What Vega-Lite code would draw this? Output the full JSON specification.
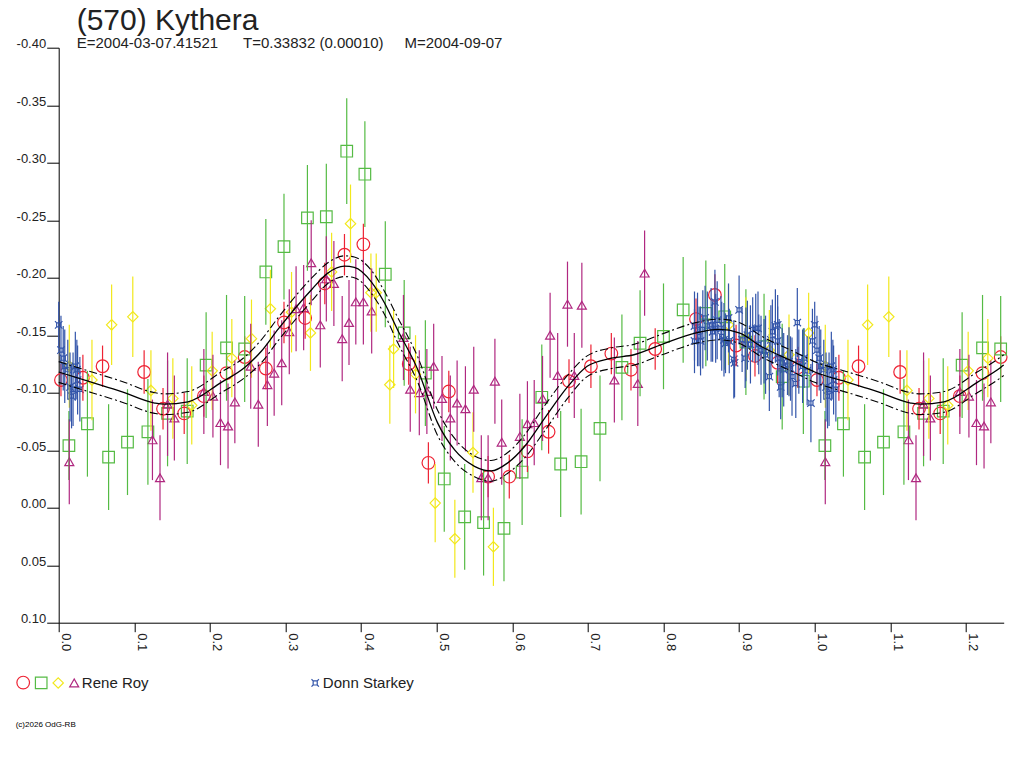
{
  "$schema": "https://vega.github.io/schema/vega-lite/v6.json",
  "autosize": "none",
  "width": 945,
  "height": 575,
  "padding": {"left": 58.7, "top": 47.7, "right": 20.3, "bottom": 145.3},
  "background": "white",
  "title": {
    "text": "(570) Kythera",
    "subtitle": "E=2004-03-07.41521\u00a0\u00a0\u00a0\u00a0\u00a0\u00a0T=0.33832 (0.00010)\u00a0\u00a0\u00a0\u00a0\u00a0M=2004-09-07",
    "anchor": "start",
    "frame": "group",
    "dx": 18,
    "offset": -13,
    "fontSize": 30,
    "fontWeight": "normal",
    "color": "#222222",
    "subtitleFontSize": 15,
    "subtitleColor": "#222222",
    "subtitlePadding": 0
  },
  "datasets": {
    "pts": [
      {"p": 0.003, "m": -0.111, "e": 0.014, "s": "Roy1"},
      {"p": 0.032, "m": -0.113, "e": 0.020, "s": "Roy1"},
      {"p": 0.058, "m": -0.123, "e": 0.018, "s": "Roy1"},
      {"p": 0.113, "m": -0.118, "e": 0.019, "s": "Roy1"},
      {"p": 0.138, "m": -0.086, "e": 0.018, "s": "Roy1"},
      {"p": 0.166, "m": -0.082, "e": 0.018, "s": "Roy1"},
      {"p": 0.192, "m": -0.097, "e": 0.018, "s": "Roy1"},
      {"p": 0.222, "m": -0.117, "e": 0.018, "s": "Roy1"},
      {"p": 0.246, "m": -0.131, "e": 0.018, "s": "Roy1"},
      {"p": 0.274, "m": -0.121, "e": 0.018, "s": "Roy1"},
      {"p": 0.298, "m": -0.161, "e": 0.018, "s": "Roy1"},
      {"p": 0.326, "m": -0.165, "e": 0.018, "s": "Roy1"},
      {"p": 0.352, "m": -0.195, "e": 0.018, "s": "Roy1"},
      {"p": 0.378, "m": -0.220, "e": 0.018, "s": "Roy1"},
      {"p": 0.403, "m": -0.229, "e": 0.018, "s": "Roy1"},
      {"p": 0.463, "m": -0.125, "e": 0.018, "s": "Roy1"},
      {"p": 0.489, "m": -0.039, "e": 0.018, "s": "Roy1"},
      {"p": 0.516, "m": -0.101, "e": 0.018, "s": "Roy1"},
      {"p": 0.568, "m": -0.027, "e": 0.018, "s": "Roy1"},
      {"p": 0.596, "m": -0.027, "e": 0.019, "s": "Roy1"},
      {"p": 0.620, "m": -0.049, "e": 0.018, "s": "Roy1"},
      {"p": 0.648, "m": -0.066, "e": 0.019, "s": "Roy1"},
      {"p": 0.675, "m": -0.110, "e": 0.019, "s": "Roy1"},
      {"p": 0.704, "m": -0.123, "e": 0.019, "s": "Roy1"},
      {"p": 0.731, "m": -0.134, "e": 0.018, "s": "Roy1"},
      {"p": 0.757, "m": -0.120, "e": 0.018, "s": "Roy1"},
      {"p": 0.789, "m": -0.138, "e": 0.018, "s": "Roy1"},
      {"p": 0.843, "m": -0.164, "e": 0.018, "s": "Roy1"},
      {"p": 0.868, "m": -0.185, "e": 0.018, "s": "Roy1"},
      {"p": 0.896, "m": -0.141, "e": 0.018, "s": "Roy1"},
      {"p": 0.921, "m": -0.132, "e": 0.018, "s": "Roy1"},
      {"p": 0.951, "m": -0.126, "e": 0.018, "s": "Roy1"},
      {"p": 0.978, "m": -0.122, "e": 0.018, "s": "Roy1"},
      {"p": 1.003, "m": -0.111, "e": 0.014, "s": "Roy1"},
      {"p": 1.032, "m": -0.113, "e": 0.020, "s": "Roy1"},
      {"p": 1.058, "m": -0.123, "e": 0.018, "s": "Roy1"},
      {"p": 1.113, "m": -0.118, "e": 0.019, "s": "Roy1"},
      {"p": 1.138, "m": -0.086, "e": 0.018, "s": "Roy1"},
      {"p": 1.166, "m": -0.082, "e": 0.018, "s": "Roy1"},
      {"p": 1.192, "m": -0.097, "e": 0.018, "s": "Roy1"},
      {"p": 1.222, "m": -0.117, "e": 0.018, "s": "Roy1"},
      {"p": 1.246, "m": -0.131, "e": 0.018, "s": "Roy1"},

      {"p": 0.0135, "m": -0.054, "e": 0.030, "s": "Roy2"},
      {"p": 0.038, "m": -0.073, "e": 0.046, "s": "Roy2"},
      {"p": 0.066, "m": -0.044, "e": 0.046, "s": "Roy2"},
      {"p": 0.091, "m": -0.057, "e": 0.046, "s": "Roy2"},
      {"p": 0.118, "m": -0.066, "e": 0.046, "s": "Roy2"},
      {"p": 0.144, "m": -0.082, "e": 0.046, "s": "Roy2"},
      {"p": 0.170, "m": -0.084, "e": 0.046, "s": "Roy2"},
      {"p": 0.195, "m": -0.124, "e": 0.046, "s": "Roy2"},
      {"p": 0.222, "m": -0.139, "e": 0.046, "s": "Roy2"},
      {"p": 0.246, "m": -0.138, "e": 0.046, "s": "Roy2"},
      {"p": 0.274, "m": -0.205, "e": 0.046, "s": "Roy2"},
      {"p": 0.298, "m": -0.227, "e": 0.046, "s": "Roy2"},
      {"p": 0.329, "m": -0.252, "e": 0.046, "s": "Roy2"},
      {"p": 0.354, "m": -0.253, "e": 0.046, "s": "Roy2"},
      {"p": 0.381, "m": -0.310, "e": 0.046, "s": "Roy2"},
      {"p": 0.405, "m": -0.290, "e": 0.046, "s": "Roy2"},
      {"p": 0.432, "m": -0.203, "e": 0.046, "s": "Roy2"},
      {"p": 0.457, "m": -0.152, "e": 0.046, "s": "Roy2"},
      {"p": 0.485, "m": -0.117, "e": 0.046, "s": "Roy2"},
      {"p": 0.510, "m": -0.025, "e": 0.046, "s": "Roy2"},
      {"p": 0.537, "m": 0.008, "e": 0.046, "s": "Roy2"},
      {"p": 0.562, "m": 0.013, "e": 0.046, "s": "Roy2"},
      {"p": 0.589, "m": 0.018, "e": 0.046, "s": "Roy2"},
      {"p": 0.613, "m": -0.031, "e": 0.046, "s": "Roy2"},
      {"p": 0.639, "m": -0.096, "e": 0.046, "s": "Roy2"},
      {"p": 0.664, "m": -0.038, "e": 0.046, "s": "Roy2"},
      {"p": 0.691, "m": -0.040, "e": 0.046, "s": "Roy2"},
      {"p": 0.716, "m": -0.069, "e": 0.046, "s": "Roy2"},
      {"p": 0.745, "m": -0.122, "e": 0.046, "s": "Roy2"},
      {"p": 0.769, "m": -0.143, "e": 0.046, "s": "Roy2"},
      {"p": 0.800, "m": -0.149, "e": 0.046, "s": "Roy2"},
      {"p": 0.826, "m": -0.172, "e": 0.046, "s": "Roy2"},
      {"p": 0.856, "m": -0.169, "e": 0.046, "s": "Roy2"},
      {"p": 0.881, "m": -0.166, "e": 0.046, "s": "Roy2"},
      {"p": 0.909, "m": -0.144, "e": 0.046, "s": "Roy2"},
      {"p": 0.933, "m": -0.140, "e": 0.046, "s": "Roy2"},
      {"p": 0.957, "m": -0.114, "e": 0.046, "s": "Roy2"},
      {"p": 0.985, "m": -0.110, "e": 0.046, "s": "Roy2"},
      {"p": 1.0135, "m": -0.054, "e": 0.030, "s": "Roy2"},
      {"p": 1.038, "m": -0.073, "e": 0.046, "s": "Roy2"},
      {"p": 1.066, "m": -0.044, "e": 0.046, "s": "Roy2"},
      {"p": 1.091, "m": -0.057, "e": 0.046, "s": "Roy2"},
      {"p": 1.118, "m": -0.066, "e": 0.046, "s": "Roy2"},
      {"p": 1.144, "m": -0.082, "e": 0.046, "s": "Roy2"},
      {"p": 1.170, "m": -0.084, "e": 0.046, "s": "Roy2"},
      {"p": 1.195, "m": -0.124, "e": 0.046, "s": "Roy2"},
      {"p": 1.222, "m": -0.139, "e": 0.046, "s": "Roy2"},
      {"p": 1.246, "m": -0.138, "e": 0.046, "s": "Roy2"},

      {"p": 0.014, "m": -0.123, "e": 0.036, "s": "Roy3"},
      {"p": 0.044, "m": -0.111, "e": 0.035, "s": "Roy3"},
      {"p": 0.070, "m": -0.159, "e": 0.035, "s": "Roy3"},
      {"p": 0.098, "m": -0.166, "e": 0.035, "s": "Roy3"},
      {"p": 0.122, "m": -0.102, "e": 0.035, "s": "Roy3"},
      {"p": 0.151, "m": -0.095, "e": 0.035, "s": "Roy3"},
      {"p": 0.176, "m": -0.089, "e": 0.034, "s": "Roy3"},
      {"p": 0.203, "m": -0.119, "e": 0.034, "s": "Roy3"},
      {"p": 0.229, "m": -0.130, "e": 0.034, "s": "Roy3"},
      {"p": 0.255, "m": -0.147, "e": 0.034, "s": "Roy3"},
      {"p": 0.280, "m": -0.173, "e": 0.034, "s": "Roy3"},
      {"p": 0.308, "m": -0.170, "e": 0.035, "s": "Roy3"},
      {"p": 0.333, "m": -0.152, "e": 0.033, "s": "Roy3"},
      {"p": 0.361, "m": -0.205, "e": 0.034, "s": "Roy3"},
      {"p": 0.386, "m": -0.247, "e": 0.034, "s": "Roy3"},
      {"p": 0.413, "m": -0.187, "e": 0.034, "s": "Roy3"},
      {"p": 0.420, "m": -0.187, "e": 0.034, "s": "Roy3"},
      {"p": 0.438, "m": -0.107, "e": 0.034, "s": "Roy3"},
      {"p": 0.443, "m": -0.138, "e": 0.034, "s": "Roy3"},
      {"p": 0.472, "m": -0.116, "e": 0.034, "s": "Roy3"},
      {"p": 0.498, "m": -0.004, "e": 0.034, "s": "Roy3"},
      {"p": 0.524, "m": 0.027, "e": 0.034, "s": "Roy3"},
      {"p": 0.548, "m": -0.048, "e": 0.035, "s": "Roy3"},
      {"p": 0.575, "m": 0.034, "e": 0.034, "s": "Roy3"},
      {"p": 0.886, "m": -0.159, "e": 0.035, "s": "Roy3"},
      {"p": 0.909, "m": -0.148, "e": 0.035, "s": "Roy3"},
      {"p": 0.940, "m": -0.137, "e": 0.035, "s": "Roy3"},
      {"p": 0.966, "m": -0.133, "e": 0.035, "s": "Roy3"},
      {"p": 0.992, "m": -0.152, "e": 0.035, "s": "Roy3"},
      {"p": 1.014, "m": -0.123, "e": 0.036, "s": "Roy3"},
      {"p": 1.044, "m": -0.111, "e": 0.035, "s": "Roy3"},
      {"p": 1.070, "m": -0.159, "e": 0.035, "s": "Roy3"},
      {"p": 1.098, "m": -0.166, "e": 0.035, "s": "Roy3"},
      {"p": 1.122, "m": -0.102, "e": 0.035, "s": "Roy3"},
      {"p": 1.151, "m": -0.095, "e": 0.035, "s": "Roy3"},
      {"p": 1.176, "m": -0.089, "e": 0.034, "s": "Roy3"},
      {"p": 1.203, "m": -0.119, "e": 0.034, "s": "Roy3"},
      {"p": 1.229, "m": -0.130, "e": 0.034, "s": "Roy3"},

      {"p": 0.014, "m": -0.040, "e": 0.037, "s": "Roy4"},
      {"p": 0.124, "m": -0.059, "e": 0.035, "s": "Roy4"},
      {"p": 0.134, "m": -0.026, "e": 0.037, "s": "Roy4"},
      {"p": 0.144, "m": -0.090, "e": 0.045, "s": "Roy4"},
      {"p": 0.153, "m": -0.078, "e": 0.037, "s": "Roy4"},
      {"p": 0.192, "m": -0.101, "e": 0.037, "s": "Roy4"},
      {"p": 0.204, "m": -0.097, "e": 0.036, "s": "Roy4"},
      {"p": 0.214, "m": -0.074, "e": 0.037, "s": "Roy4"},
      {"p": 0.224, "m": -0.071, "e": 0.037, "s": "Roy4"},
      {"p": 0.233, "m": -0.092, "e": 0.036, "s": "Roy4"},
      {"p": 0.254, "m": -0.123, "e": 0.037, "s": "Roy4"},
      {"p": 0.264, "m": -0.090, "e": 0.037, "s": "Roy4"},
      {"p": 0.276, "m": -0.107, "e": 0.036, "s": "Roy4"},
      {"p": 0.285, "m": -0.117, "e": 0.037, "s": "Roy4"},
      {"p": 0.295, "m": -0.126, "e": 0.037, "s": "Roy4"},
      {"p": 0.305, "m": -0.153, "e": 0.037, "s": "Roy4"},
      {"p": 0.314, "m": -0.173, "e": 0.037, "s": "Roy4"},
      {"p": 0.324, "m": -0.174, "e": 0.037, "s": "Roy4"},
      {"p": 0.334, "m": -0.213, "e": 0.037, "s": "Roy4"},
      {"p": 0.346, "m": -0.159, "e": 0.037, "s": "Roy4"},
      {"p": 0.354, "m": -0.199, "e": 0.037, "s": "Roy4"},
      {"p": 0.364, "m": -0.195, "e": 0.037, "s": "Roy4"},
      {"p": 0.375, "m": -0.147, "e": 0.037, "s": "Roy4"},
      {"p": 0.384, "m": -0.161, "e": 0.037, "s": "Roy4"},
      {"p": 0.393, "m": -0.179, "e": 0.037, "s": "Roy4"},
      {"p": 0.403, "m": -0.179, "e": 0.037, "s": "Roy4"},
      {"p": 0.414, "m": -0.171, "e": 0.037, "s": "Roy4"},
      {"p": 0.456, "m": -0.148, "e": 0.037, "s": "Roy4"},
      {"p": 0.465, "m": -0.103, "e": 0.037, "s": "Roy4"},
      {"p": 0.477, "m": -0.100, "e": 0.037, "s": "Roy4"},
      {"p": 0.487, "m": -0.101, "e": 0.037, "s": "Roy4"},
      {"p": 0.496, "m": -0.123, "e": 0.037, "s": "Roy4"},
      {"p": 0.507, "m": -0.095, "e": 0.037, "s": "Roy4"},
      {"p": 0.518, "m": -0.078, "e": 0.037, "s": "Roy4"},
      {"p": 0.527, "m": -0.091, "e": 0.037, "s": "Roy4"},
      {"p": 0.538, "m": -0.086, "e": 0.037, "s": "Roy4"},
      {"p": 0.549, "m": -0.103, "e": 0.037, "s": "Roy4"},
      {"p": 0.559, "m": -0.026, "e": 0.037, "s": "Roy4"},
      {"p": 0.568, "m": -0.026, "e": 0.037, "s": "Roy4"},
      {"p": 0.577, "m": -0.110, "e": 0.037, "s": "Roy4"},
      {"p": 0.586, "m": -0.057, "e": 0.037, "s": "Roy4"},
      {"p": 0.610, "m": -0.062, "e": 0.037, "s": "Roy4"},
      {"p": 0.620, "m": -0.073, "e": 0.037, "s": "Roy4"},
      {"p": 0.629, "m": -0.074, "e": 0.037, "s": "Roy4"},
      {"p": 0.640, "m": -0.095, "e": 0.037, "s": "Roy4"},
      {"p": 0.650, "m": -0.150, "e": 0.037, "s": "Roy4"},
      {"p": 0.660, "m": -0.115, "e": 0.037, "s": "Roy4"},
      {"p": 0.673, "m": -0.177, "e": 0.037, "s": "Roy4"},
      {"p": 0.682, "m": -0.115, "e": 0.037, "s": "Roy4"},
      {"p": 0.692, "m": -0.176, "e": 0.037, "s": "Roy4"},
      {"p": 0.735, "m": -0.111, "e": 0.037, "s": "Roy4"},
      {"p": 0.766, "m": -0.108, "e": 0.037, "s": "Roy4"},
      {"p": 0.775, "m": -0.204, "e": 0.037, "s": "Roy4"},
      {"p": 1.014, "m": -0.040, "e": 0.037, "s": "Roy4"},
      {"p": 1.124, "m": -0.059, "e": 0.035, "s": "Roy4"},
      {"p": 1.134, "m": -0.026, "e": 0.037, "s": "Roy4"},
      {"p": 1.144, "m": -0.090, "e": 0.045, "s": "Roy4"},
      {"p": 1.153, "m": -0.078, "e": 0.037, "s": "Roy4"},
      {"p": 1.192, "m": -0.101, "e": 0.037, "s": "Roy4"},
      {"p": 1.204, "m": -0.097, "e": 0.036, "s": "Roy4"},
      {"p": 1.214, "m": -0.074, "e": 0.037, "s": "Roy4"},
      {"p": 1.224, "m": -0.071, "e": 0.037, "s": "Roy4"},
      {"p": 1.233, "m": -0.092, "e": 0.036, "s": "Roy4"},

      {"p": 0.000, "m": -0.159, "e": 0.020, "s": "Starkey"},
      {"p": 0.003, "m": -0.137, "e": 0.030, "s": "Starkey"},
      {"p": 0.006, "m": -0.130, "e": 0.028, "s": "Starkey"},
      {"p": 0.008, "m": -0.123, "e": 0.032, "s": "Starkey"},
      {"p": 0.012, "m": -0.120, "e": 0.026, "s": "Starkey"},
      {"p": 0.015, "m": -0.105, "e": 0.030, "s": "Starkey"},
      {"p": 0.017, "m": -0.097, "e": 0.028, "s": "Starkey"},
      {"p": 0.019, "m": -0.103, "e": 0.032, "s": "Starkey"},
      {"p": 0.022, "m": -0.123, "e": 0.030, "s": "Starkey"},
      {"p": 0.024, "m": -0.120, "e": 0.026, "s": "Starkey"},
      {"p": 0.025, "m": -0.111, "e": 0.030, "s": "Starkey"},
      {"p": 0.028, "m": -0.103, "e": 0.028, "s": "Starkey"},
      {"p": 0.841, "m": -0.158, "e": 0.030, "s": "Starkey"},
      {"p": 0.841, "m": -0.145, "e": 0.028, "s": "Starkey"},
      {"p": 0.845, "m": -0.155, "e": 0.032, "s": "Starkey"},
      {"p": 0.847, "m": -0.149, "e": 0.026, "s": "Starkey"},
      {"p": 0.849, "m": -0.145, "e": 0.030, "s": "Starkey"},
      {"p": 0.852, "m": -0.155, "e": 0.034, "s": "Starkey"},
      {"p": 0.855, "m": -0.165, "e": 0.028, "s": "Starkey"},
      {"p": 0.858, "m": -0.158, "e": 0.030, "s": "Starkey"},
      {"p": 0.863, "m": -0.159, "e": 0.032, "s": "Starkey"},
      {"p": 0.865, "m": -0.153, "e": 0.026, "s": "Starkey"},
      {"p": 0.868, "m": -0.179, "e": 0.028, "s": "Starkey"},
      {"p": 0.869, "m": -0.156, "e": 0.030, "s": "Starkey"},
      {"p": 0.871, "m": -0.163, "e": 0.034, "s": "Starkey"},
      {"p": 0.876, "m": -0.156, "e": 0.028, "s": "Starkey"},
      {"p": 0.877, "m": -0.149, "e": 0.030, "s": "Starkey"},
      {"p": 0.880, "m": -0.146, "e": 0.032, "s": "Starkey"},
      {"p": 0.882, "m": -0.143, "e": 0.026, "s": "Starkey"},
      {"p": 0.886, "m": -0.165, "e": 0.030, "s": "Starkey"},
      {"p": 0.887, "m": -0.145, "e": 0.028, "s": "Starkey"},
      {"p": 0.893, "m": -0.129, "e": 0.034, "s": "Starkey"},
      {"p": 0.894, "m": -0.126, "e": 0.030, "s": "Starkey"},
      {"p": 0.900, "m": -0.172, "e": 0.030, "s": "Starkey"},
      {"p": 0.904, "m": -0.146, "e": 0.028, "s": "Starkey"},
      {"p": 0.909, "m": -0.142, "e": 0.032, "s": "Starkey"},
      {"p": 0.908, "m": -0.130, "e": 0.026, "s": "Starkey"},
      {"p": 0.911, "m": -0.150, "e": 0.030, "s": "Starkey"},
      {"p": 0.915, "m": -0.142, "e": 0.034, "s": "Starkey"},
      {"p": 0.918, "m": -0.155, "e": 0.028, "s": "Starkey"},
      {"p": 0.922, "m": -0.156, "e": 0.030, "s": "Starkey"},
      {"p": 0.925, "m": -0.156, "e": 0.032, "s": "Starkey"},
      {"p": 0.926, "m": -0.142, "e": 0.026, "s": "Starkey"},
      {"p": 0.929, "m": -0.137, "e": 0.030, "s": "Starkey"},
      {"p": 0.933, "m": -0.136, "e": 0.028, "s": "Starkey"},
      {"p": 0.935, "m": -0.133, "e": 0.034, "s": "Starkey"},
      {"p": 0.940, "m": -0.114, "e": 0.030, "s": "Starkey"},
      {"p": 0.942, "m": -0.146, "e": 0.030, "s": "Starkey"},
      {"p": 0.944, "m": -0.153, "e": 0.028, "s": "Starkey"},
      {"p": 0.948, "m": -0.158, "e": 0.032, "s": "Starkey"},
      {"p": 0.951, "m": -0.159, "e": 0.026, "s": "Starkey"},
      {"p": 0.951, "m": -0.145, "e": 0.030, "s": "Starkey"},
      {"p": 0.953, "m": -0.130, "e": 0.034, "s": "Starkey"},
      {"p": 0.955, "m": -0.105, "e": 0.028, "s": "Starkey"},
      {"p": 0.957, "m": -0.126, "e": 0.030, "s": "Starkey"},
      {"p": 0.959, "m": -0.120, "e": 0.032, "s": "Starkey"},
      {"p": 0.964, "m": -0.124, "e": 0.026, "s": "Starkey"},
      {"p": 0.966, "m": -0.127, "e": 0.030, "s": "Starkey"},
      {"p": 0.968, "m": -0.121, "e": 0.028, "s": "Starkey"},
      {"p": 0.970, "m": -0.114, "e": 0.034, "s": "Starkey"},
      {"p": 0.975, "m": -0.108, "e": 0.030, "s": "Starkey"},
      {"p": 0.977, "m": -0.161, "e": 0.030, "s": "Starkey"},
      {"p": 0.979, "m": -0.127, "e": 0.028, "s": "Starkey"},
      {"p": 0.984, "m": -0.123, "e": 0.032, "s": "Starkey"},
      {"p": 0.986, "m": -0.130, "e": 0.026, "s": "Starkey"},
      {"p": 0.990, "m": -0.119, "e": 0.030, "s": "Starkey"},
      {"p": 0.995, "m": -0.091, "e": 0.034, "s": "Starkey"},
      {"p": 0.997, "m": -0.145, "e": 0.028, "s": "Starkey"},
      {"p": 1.000, "m": -0.159, "e": 0.020, "s": "Starkey"},
      {"p": 1.003, "m": -0.137, "e": 0.030, "s": "Starkey"},
      {"p": 1.006, "m": -0.130, "e": 0.028, "s": "Starkey"},
      {"p": 1.008, "m": -0.123, "e": 0.032, "s": "Starkey"},
      {"p": 1.012, "m": -0.120, "e": 0.026, "s": "Starkey"},
      {"p": 1.015, "m": -0.105, "e": 0.030, "s": "Starkey"},
      {"p": 1.017, "m": -0.097, "e": 0.028, "s": "Starkey"},
      {"p": 1.019, "m": -0.103, "e": 0.032, "s": "Starkey"},
      {"p": 1.022, "m": -0.123, "e": 0.030, "s": "Starkey"},
      {"p": 1.024, "m": -0.120, "e": 0.026, "s": "Starkey"},
      {"p": 1.025, "m": -0.111, "e": 0.030, "s": "Starkey"},
      {"p": 1.028, "m": -0.103, "e": 0.028, "s": "Starkey"}
    ],
    "crv": [
      {"p": 0.000, "f": -0.118, "u": -0.127, "d": -0.109},
      {"p": 0.044, "f": -0.109, "u": -0.118, "d": -0.100},
      {"p": 0.083, "f": -0.101, "u": -0.110, "d": -0.092},
      {"p": 0.127, "f": -0.091, "u": -0.100, "d": -0.082},
      {"p": 0.140, "f": -0.090, "u": -0.099, "d": -0.081},
      {"p": 0.171, "f": -0.092, "u": -0.101, "d": -0.083},
      {"p": 0.215, "f": -0.109, "u": -0.118, "d": -0.100},
      {"p": 0.246, "f": -0.122, "u": -0.131, "d": -0.113},
      {"p": 0.268, "f": -0.136, "u": -0.146, "d": -0.126},
      {"p": 0.290, "f": -0.155, "u": -0.165, "d": -0.145},
      {"p": 0.335, "f": -0.190, "u": -0.200, "d": -0.180},
      {"p": 0.356, "f": -0.204, "u": -0.213, "d": -0.195},
      {"p": 0.378, "f": -0.210, "u": -0.219, "d": -0.201},
      {"p": 0.391, "f": -0.209, "u": -0.218, "d": -0.200},
      {"p": 0.414, "f": -0.196, "u": -0.206, "d": -0.186},
      {"p": 0.431, "f": -0.178, "u": -0.188, "d": -0.168},
      {"p": 0.448, "f": -0.155, "u": -0.166, "d": -0.144},
      {"p": 0.475, "f": -0.120, "u": -0.131, "d": -0.109},
      {"p": 0.501, "f": -0.074, "u": -0.085, "d": -0.063},
      {"p": 0.524, "f": -0.050, "u": -0.060, "d": -0.040},
      {"p": 0.550, "f": -0.036, "u": -0.045, "d": -0.027},
      {"p": 0.572, "f": -0.032, "u": -0.041, "d": -0.023},
      {"p": 0.594, "f": -0.039, "u": -0.048, "d": -0.030},
      {"p": 0.616, "f": -0.053, "u": -0.063, "d": -0.043},
      {"p": 0.642, "f": -0.077, "u": -0.088, "d": -0.066},
      {"p": 0.673, "f": -0.105, "u": -0.115, "d": -0.095},
      {"p": 0.699, "f": -0.123, "u": -0.132, "d": -0.114},
      {"p": 0.731, "f": -0.130, "u": -0.139, "d": -0.121},
      {"p": 0.761, "f": -0.133, "u": -0.142, "d": -0.124},
      {"p": 0.798, "f": -0.142, "u": -0.151, "d": -0.133},
      {"p": 0.843, "f": -0.152, "u": -0.161, "d": -0.143},
      {"p": 0.874, "f": -0.155, "u": -0.164, "d": -0.146},
      {"p": 0.900, "f": -0.152, "u": -0.161, "d": -0.143},
      {"p": 0.930, "f": -0.140, "u": -0.149, "d": -0.131},
      {"p": 0.975, "f": -0.126, "u": -0.135, "d": -0.117},
      {"p": 1.000, "f": -0.118, "u": -0.127, "d": -0.109},
      {"p": 1.044, "f": -0.109, "u": -0.118, "d": -0.100},
      {"p": 1.083, "f": -0.101, "u": -0.110, "d": -0.092},
      {"p": 1.127, "f": -0.091, "u": -0.100, "d": -0.082},
      {"p": 1.140, "f": -0.090, "u": -0.099, "d": -0.081},
      {"p": 1.171, "f": -0.092, "u": -0.101, "d": -0.083},
      {"p": 1.215, "f": -0.109, "u": -0.118, "d": -0.100},
      {"p": 1.246, "f": -0.122, "u": -0.131, "d": -0.113},
      {"p": 1.250, "f": -0.124, "u": -0.133, "d": -0.115}
    ]
  },
  "layer": [
    {
      "data": {"name": "pts"},
      "mark": {"type": "point", "filled": false, "strokeWidth": 1.2, "opacity": 1},
      "encoding": {
        "x": {"field": "p", "type": "quantitative", "title": null,
              "scale": {"domain": [0, 1.25], "nice": false, "zero": false},
              "axis": {
                "values": [0, 0.05, 0.1, 0.15, 0.2, 0.25, 0.3, 0.35, 0.4, 0.45, 0.5, 0.55, 0.6, 0.65, 0.7, 0.75, 0.8, 0.85, 0.9, 0.95, 1.0, 1.05, 1.1, 1.15, 1.2, 1.25],
                "labelExpr": "abs(datum.value * 10 - round(datum.value * 10)) < 0.01 && datum.value < 1.24 ? format(datum.value, '.1f') : ''",
                "labelAngle": 90, "labelAlign": "left", "labelBaseline": "bottom",
                "tickSize": 9, "labelPadding": 1, "labelFontSize": 13, "labelColor": "#222222",
                "domainColor": "#000000", "tickColor": "#000000", "grid": false,
                "labelOverlap": false, "labelFlush": false
              }},
        "y": {"field": "m", "type": "quantitative", "title": null,
              "scale": {"domain": [-0.40, 0.10], "reverse": true, "nice": false, "zero": false},
              "axis": {
                "values": [-0.40, -0.35, -0.30, -0.25, -0.20, -0.15, -0.10, -0.05, 0.00, 0.05, 0.10],
                "labelExpr": "(datum.value < -0.001 ? '-' : '') + format(abs(datum.value), '.2f')",
                "labelBaseline": "alphabetic", "labelAlign": "right",
                "tickSize": 12, "labelPadding": 1, "labelFontSize": 13, "labelColor": "#222222",
                "domainColor": "#000000", "tickColor": "#000000", "grid": false,
                "labelOverlap": false, "labelFlush": false
              }},
        "color": {"field": "s", "type": "nominal",
                  "scale": {"domain": ["Roy1", "Roy2", "Roy3", "Roy4", "Starkey"],
                            "range": ["#ee2233", "#55bb44", "#f2e81c", "#b02880", "#3355aa"]},
                  "legend": {
                    "title": "(c)2026 OdG-RB",
                    "orient": "none", "legendX": -43, "legendY": 627,
                    "direction": "horizontal",
                    "titleOrient": "bottom", "titleAnchor": "start", "titleFontSize": 8,
                    "titleFontWeight": "normal", "titleColor": "#000000", "titlePadding": 29,
                    "labelFontSize": 15, "labelColor": "#222222", "labelLimit": 1000,
                    "labelOffset": -4, "columnPadding": 0, "symbolStrokeWidth": 1.2,
                    "labelExpr": "datum.label == 'Roy4' ? '\u200b\u00a0Rene Roy\u00a0\u00a0\u00a0\u00a0\u00a0\u00a0\u00a0\u00a0\u00a0\u00a0\u00a0\u00a0\u00a0\u00a0\u00a0\u00a0\u00a0\u00a0\u00a0\u00a0\u00a0\u00a0\u00a0\u00a0\u00a0\u00a0\u00a0\u00a0\u00a0\u00a0\u00a0\u00a0\u00a0\u00a0\u00a0\u00a0\u00a0\u00a0\u200b' : datum.label == 'Starkey' ? '\u200b\u00a0Donn Starkey' : ''"
                  }},
        "shape": {"field": "s", "type": "nominal",
                  "scale": {"domain": ["Roy1", "Roy2", "Roy3", "Roy4", "Starkey"],
                            "range": ["circle", "square", "diamond", "triangle-up",
                                      "M-0.55,-0.55H0.55V0.55H-0.55Z M-0.55,-0.55L-1,-1 M0.55,-0.55L1,-1 M0.55,0.55L1,1 M-0.55,0.55L-1,1"]}},
        "size": {"field": "s", "type": "nominal",
                 "scale": {"domain": ["Roy1", "Roy2", "Roy3", "Roy4", "Starkey"],
                           "range": [160, 55, 95, 85, 75]}}
      }
    },
    {
      "data": {"name": "pts"},
      "mark": {"type": "errorbar", "thickness": 1.2},
      "encoding": {
        "x": {"field": "p", "type": "quantitative", "title": null},
        "y": {"field": "m", "type": "quantitative", "title": null},
        "yError": {"field": "e"},
        "color": {"field": "s", "type": "nominal"}
      }
    },
    {
      "data": {"name": "crv"},
      "mark": {"type": "line", "color": "#000000", "strokeWidth": 1.3, "interpolate": "monotone"},
      "encoding": {
        "x": {"field": "p", "type": "quantitative", "title": null},
        "y": {"field": "f", "type": "quantitative", "title": null}
      }
    },
    {
      "data": {"name": "crv"},
      "mark": {"type": "line", "color": "#000000", "strokeWidth": 1.1, "strokeDash": [8, 3, 2, 3], "interpolate": "monotone"},
      "encoding": {
        "x": {"field": "p", "type": "quantitative", "title": null},
        "y": {"field": "u", "type": "quantitative", "title": null}
      }
    },
    {
      "data": {"name": "crv"},
      "mark": {"type": "line", "color": "#000000", "strokeWidth": 1.1, "strokeDash": [8, 3, 2, 3], "interpolate": "monotone"},
      "encoding": {
        "x": {"field": "p", "type": "quantitative", "title": null},
        "y": {"field": "d", "type": "quantitative", "title": null}
      }
    }
  ],
  "config": {
    "font": "Liberation Sans",
    "view": {"stroke": null}
  }
}
